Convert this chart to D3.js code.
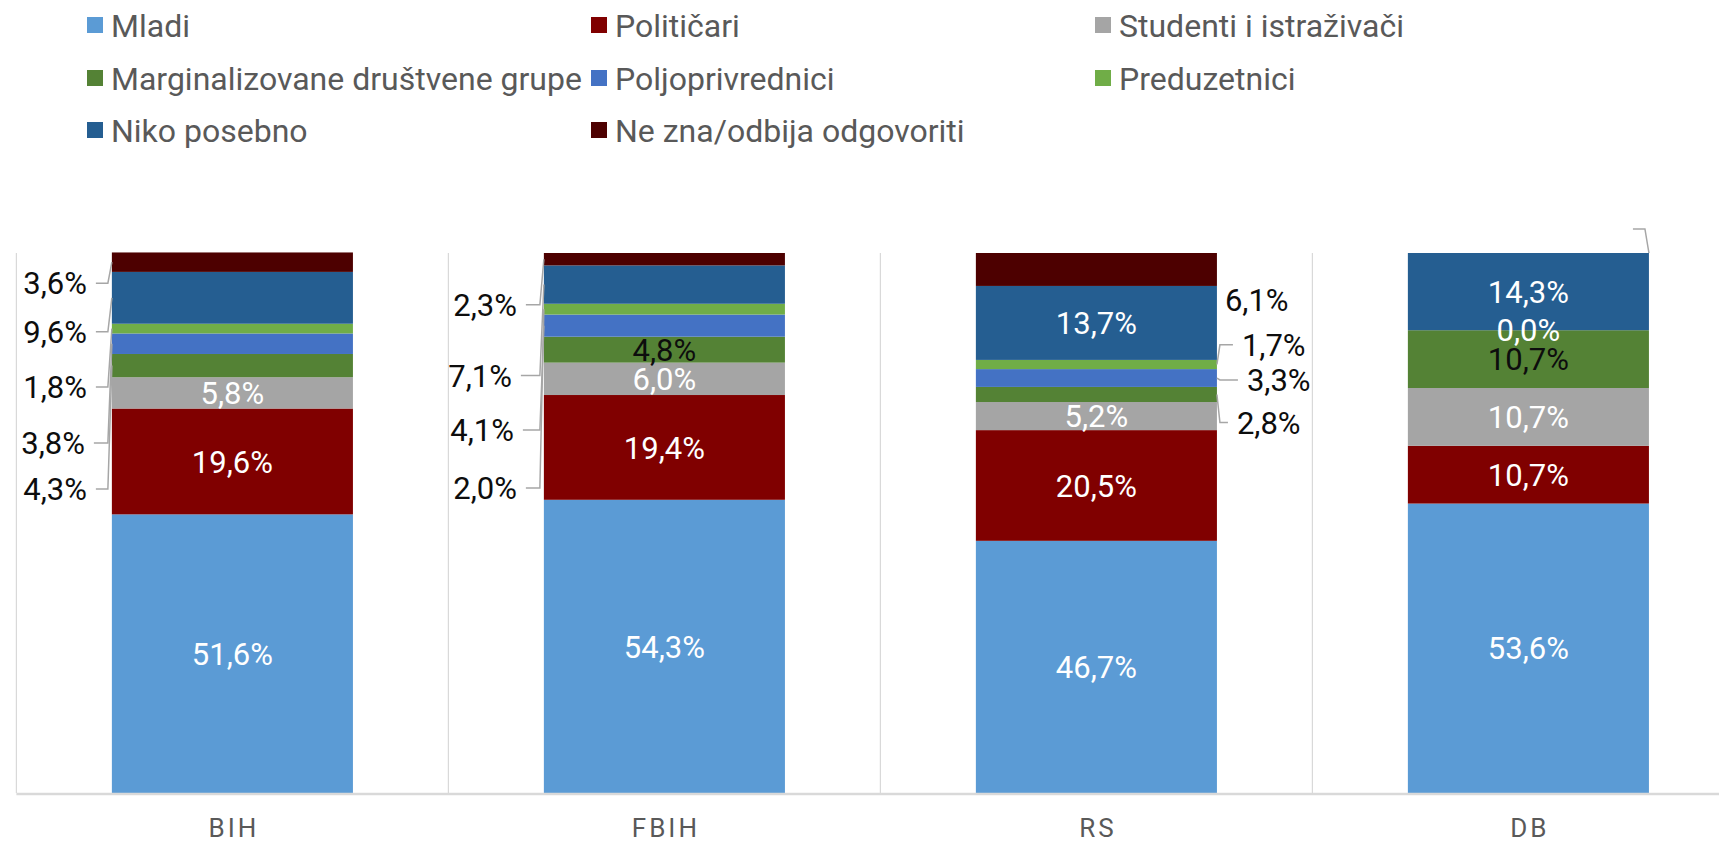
<!DOCTYPE html>
<html>
<head>
<meta charset="utf-8">
<script src="https://cdn.jsdelivr.net/npm/d3@7"></script>
<style>
  html, body { margin: 0; padding: 0; background: #fff; }
  svg { display: block; }
  text { font-family: Roboto, "Noto Sans", sans-serif; }
</style>
</head>
<body>
<svg id="chart" width="1719" height="842"></svg>
<script>
// ---- data ----
const categories = ["BIH", "FBIH", "RS", "DB"];
const seriesNames = [
  "Mladi", "Političari", "Studenti i istraživači", "Marginalizovane društvene grupe",
  "Poljoprivrednici", "Preduzetnici", "Niko posebno", "Ne zna/odbija odgovoriti"
];
const mladi            = [51.6, 54.3, 46.7, 53.6];
const politicari       = [19.6, 19.4, 20.5, 10.7];
const studenti         = [5.8, 6.0, 5.2, 10.7];
const marginalizovane  = [4.3, 4.8, 2.8, 10.7];
const poljoprivrednici = [3.8, 4.1, 3.3, 0.0];
const preduzetnici     = [1.8, 2.0, 1.7, 0.0];
const nikoPosebno      = [9.6, 7.1, 13.7, 14.3];
const neZna            = [3.6, 2.3, 6.1, 0.0];
const seriesValues = [mladi, politicari, studenti, marginalizovane, poljoprivrednici, preduzetnici, nikoPosebno, neZna];

// legend order (3 columns, row by row)
const legendOrder = [0, 1, 2, 3, 4, 5, 6, 7];

// ---- styles ----
const colors = ["#5B9BD5", "#800000", "#A5A5A5", "#548235", "#4472C4", "#70AD47", "#255E91", "#4D0000"];

// which labels sit inside the segments (series index per category)
const insideLabels = {
  BIH: [0, 1, 2],
  FBIH: [0, 1, 2, 3],
  RS: [0, 1, 2, 6],
  DB: [0, 1, 2, 3, 4, 6]
};
// outside labels: [category, series index, side, label y (in value units), x offset, leader]
const outsideLabels = [
  ["BIH", 7, "left", 94.4, 25, true],
  ["BIH", 6, "left", 85.4, 25, true],
  ["BIH", 5, "left", 75.2, 25, true],
  ["BIH", 4, "left", 64.8, 27, true],
  ["BIH", 3, "left", 56.3, 25, true],
  ["FBIH", 7, "left", 90.4, 27, true],
  ["FBIH", 6, "left", 77.3, 32, true],
  ["FBIH", 4, "left", 67.2, 30, true],
  ["FBIH", 5, "left", 56.5, 27, true],
  ["RS", 7, "right", 91.3, 8, false],
  ["RS", 5, "right", 83.0, 25, true],
  ["RS", 4, "right", 76.5, 30, true],
  ["RS", 3, "right", 68.6, 20, true]
];

// ---- layout ----
const svg = d3.select("#chart");
const plotLeft = 16.4, step = 432, plotTop = 253, plotBottom = 793;

const x = d3.scaleBand()
  .domain(categories)
  .range([plotLeft, plotLeft + step * categories.length])
  .paddingInner(0.442)
  .paddingOuter(0.221);

const y = d3.scaleLinear().domain([0, 100]).range([plotBottom, plotTop]);

const rows = categories.map((c, i) => {
  const r = { cat: c };
  seriesValues.forEach((arr, s) => r["s" + s] = arr[i]);
  return r;
});
const keys = seriesValues.map((_, s) => "s" + s);
const stacked = d3.stack().keys(keys)(rows);

// separators / axis lines
const gridG = svg.append("g");
d3.range(categories.length + 1).forEach(i => {
  const gx = plotLeft + i * x.step();
  gridG.append("line")
    .attr("x1", gx).attr("x2", gx)
    .attr("y1", plotTop).attr("y2", plotBottom)
    .attr("stroke", "#D9D9D9").attr("stroke-width", 1.2);
});

// bars
const barsG = svg.append("g");
stacked.forEach((layer, s) => {
  barsG.append("g").selectAll("rect")
    .data(layer)
    .join("rect")
    .attr("x", d => x(d.data.cat))
    .attr("width", x.bandwidth())
    .attr("y", d => y(d[1]))
    .attr("height", d => Math.max(0, y(d[0]) - y(d[1])))
    .attr("fill", colors[s]);
});

// baseline
svg.append("line")
  .attr("x1", plotLeft).attr("x2", 1719)
  .attr("y1", plotBottom + 1).attr("y2", plotBottom + 1)
  .attr("stroke", "#D9D9D9").attr("stroke-width", 2.5);

const fmt = v => v.toFixed(1).replace(".", ",") + "%";
const labelSize = 31;

// inside labels
const labG = svg.append("g");
categories.forEach((c, ci) => {
  insideLabels[c].forEach(s => {
    const seg = stacked[s][ci];
    const mid = (y(seg[0]) + y(seg[1])) / 2;
    labG.append("text")
      .attr("x", x(c) + x.bandwidth() / 2)
      .attr("y", mid)
      .attr("dy", "0.36em")
      .attr("text-anchor", "middle")
      .attr("font-size", labelSize)
      .attr("fill", s === 3 ? "#0D0D0D" : "#FFFFFF")
      .text(fmt(seriesValues[s][ci]));
  });
});

// outside labels with leader lines
outsideLabels.forEach(([c, s, side, lv, dx, leader]) => {
  const ci = categories.indexOf(c);
  const seg = stacked[s][ci];
  const mid = (y(seg[0]) + y(seg[1])) / 2;
  const ly = y(lv);
  const bl = x(c), br = x(c) + x.bandwidth();
  if (side === "left") {
    labG.append("text")
      .attr("x", bl - dx).attr("y", ly).attr("dy", "0.36em")
      .attr("text-anchor", "end").attr("font-size", labelSize).attr("fill", "#0D0D0D")
      .text(fmt(seriesValues[s][ci]));
    if (leader) {
      labG.append("polyline")
        .attr("points", [[bl - dx + 9, ly], [bl - 4, ly], [bl, mid]].map(p => p.join(",")).join(" "))
        .attr("fill", "none").attr("stroke", "#A6A6A6").attr("stroke-width", 1.5);
    }
  } else {
    labG.append("text")
      .attr("x", br + dx).attr("y", ly).attr("dy", "0.36em")
      .attr("text-anchor", "start").attr("font-size", labelSize).attr("fill", "#0D0D0D")
      .text(fmt(seriesValues[s][ci]));
    if (leader) {
      labG.append("polyline")
        .attr("points", [[br, mid], [br + 3, ly], [br + dx - 9, ly]].map(p => p.join(",")).join(" "))
        .attr("fill", "none").attr("stroke", "#A6A6A6").attr("stroke-width", 1.5);
    }
  }
});

// DB: leader for the empty top label (Ne zna = 0)
{
  const ci = categories.indexOf("DB");
  const seg = stacked[7][ci];
  const br = x("DB") + x.bandwidth();
  const top = y(seg[1]);
  labG.append("polyline")
    .attr("points", [[br, top], [br - 4, top - 24], [br - 16, top - 24]].map(p => p.join(",")).join(" "))
    .attr("fill", "none").attr("stroke", "#A6A6A6").attr("stroke-width", 1.5);
}

// category axis labels
svg.append("g").selectAll("text")
  .data(categories)
  .join("text")
  .attr("x", d => x(d) + x.bandwidth() / 2 + 1.5)
  .attr("y", 837)
  .attr("text-anchor", "middle")
  .attr("font-size", 26)
  .attr("letter-spacing", 3)
  .attr("fill", "#595959")
  .text(d => d);

// legend
const legG = svg.append("g");
const legCols = [87, 591, 1095], legRows = [17, 70, 122];
legendOrder.forEach((s, i) => {
  const lx = legCols[i % 3], ly = legRows[Math.floor(i / 3)];
  legG.append("rect").attr("x", lx).attr("y", ly).attr("width", 16).attr("height", 16).attr("fill", colors[s]);
  legG.append("text")
    .attr("x", lx + 24).attr("y", ly + 8).attr("dy", "0.36em")
    .attr("font-size", 32).attr("fill", "#595959")
    .text(seriesNames[s]);
});
</script>
</body>
</html>
